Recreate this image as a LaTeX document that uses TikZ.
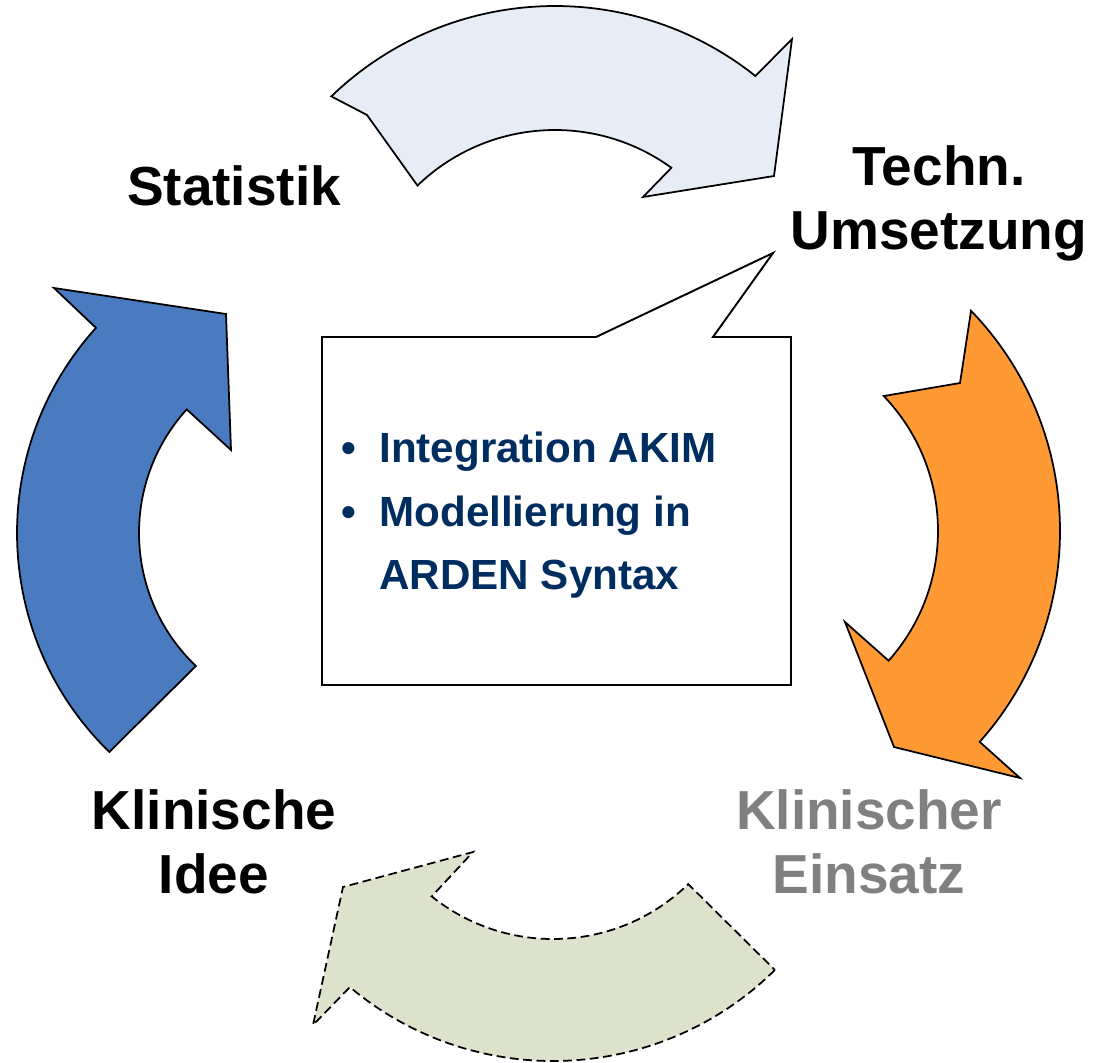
\documentclass[tikz,border=0pt]{standalone}
\usepackage{fontspec}
\setmainfont{Liberation Sans}
\usepackage{tikz}

\definecolor{topfill}{RGB}{230,237,247}
\definecolor{leftfill}{RGB}{74,122,191}
\definecolor{rightfill}{RGB}{255,153,51}
\definecolor{botfill}{RGB}{221,226,205}
\definecolor{einsatzgray}{RGB}{128,128,128}
\definecolor{itemnavy}{RGB}{0,45,96}

\begin{document}
\begin{tikzpicture}[x=0.02cm, y=-0.02cm,
    arrowline/.style={draw=black, line width=1pt, line join=miter},
    stagetext/.style={font=\fontsize{31.3}{36}\selectfont\bfseries, align=center, inner sep=0pt, anchor=base},
    itemtext/.style={font=\fontsize{24}{36.3}\selectfont\bfseries, text=itemnavy, inner sep=0pt, anchor=base west}]
        \useasboundingbox (0,0) rectangle (1095,1062);
        % centres of the four circular arrows
        \coordinate (ctop) at (555,328);
        \coordinate (cleft) at (323,533);
        \coordinate (cright) at (743,531);
        \coordinate (cbot) at (553,745);
        % top arrow
        \draw[arrowline, fill=topfill] ([shift={(-134:322)}]ctop) arc[start angle=-134, end angle=-51.5, radius=322]
          -- (792,39) -- (774,176) -- (643,197)
          -- ([shift={(-54:198)}]ctop) arc[start angle=-54, end angle=-134, radius=198] -- (367,115) -- cycle;
        % left arrow
        \draw[arrowline, fill=leftfill] ([shift={(134.3:306)}]cleft) arc[start angle=134.3, end angle=222.1, radius=306]
          -- (54,288) -- (226,314) -- (231,450)
          -- ([shift={(222.2:184)}]cleft) arc[start angle=222.2, end angle=133.7, radius=184] -- cycle;
        % right arrow
        \draw[arrowline, fill=rightfill] ([shift={(-44:317)}]cright) arc[start angle=-44, end angle=41.7, radius=317]
          -- (1020,778) -- (894,747) -- (845,622)
          -- ([shift={(41.7:195)}]cright) arc[start angle=41.7, end angle=-43.8, radius=195] -- (960,383) -- cycle;
        % bottom arrow
        \draw[arrowline, dash pattern=on 5pt off 2.6pt, fill=botfill] ([shift={(45.4:316)}]cbot) arc[start angle=45.4, end angle=130, radius=316]
          -- (313,1025) -- (343,887) -- (473,852)
          -- ([shift={(128.7:194)}]cbot) arc[start angle=128.7, end angle=45.8, radius=194] -- cycle;
        % callout
        \draw[line width=1.1pt, fill=white] (322,337) -- (596,337) -- (773,253) -- (713,337) -- (791,337) -- (791,685) -- (322,685) -- cycle;

        % base of a two-line node = baseline of its last line
        \node[stagetext] (statistik) at (234,205) {Statistik};
        \node[stagetext] (techn) at (939,249) {Techn.\\Umsetzung};
        \node[stagetext] (idee) at (214,893) {Klinische\\Idee};
        \node[stagetext, text=einsatzgray] (einsatz) at (869,893) {Klinischer\\Einsatz};

        \node[itemtext] (item1) at (379,462) {Integration AKIM};
        \node[itemtext] (item2) at (379,526) {Modellierung in};
        \node[itemtext] (item3) at (379,589) {ARDEN Syntax};
        \foreach \n/\y in {1/462, 2/526} {
          \node[itemtext] (dot\n) at (341,\y) {\textbullet};
        }
    \end{tikzpicture}
\end{document}
